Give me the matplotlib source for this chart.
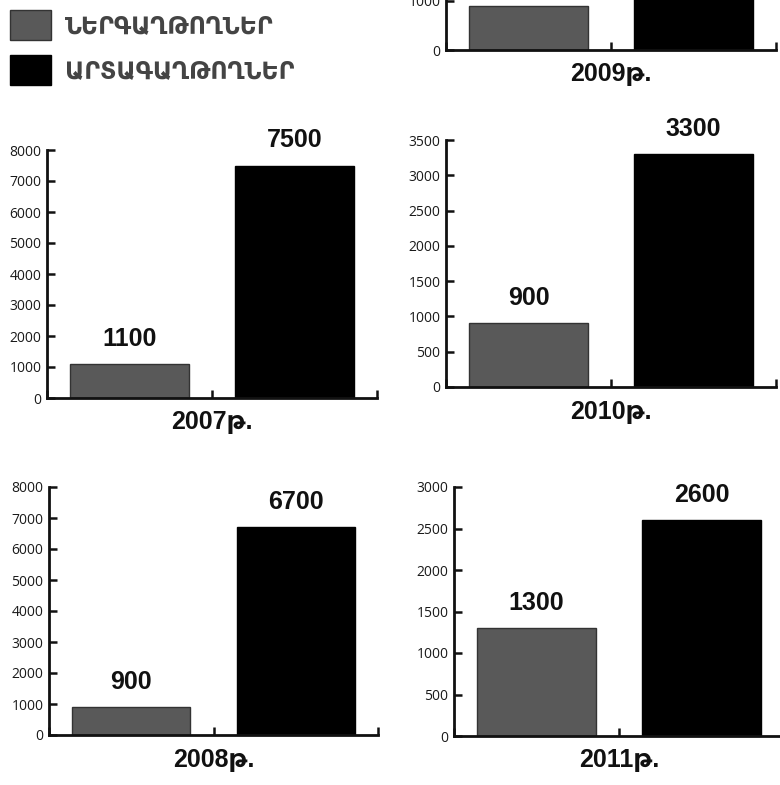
import numpy as np
import matplotlib
matplotlib.use('Agg')
import matplotlib.pyplot as plt
from matplotlib.patches import Patch

W, H = 780, 785

years = ['2007', '2008', '2009', '2010', '2011']
immigrants = [1100, 900, 900, 900, 1300]
emigrants = [7500, 6700, 4500, 3300, 2600]
ymax = [8000, 8000, 5000, 3500, 3000]
ystep = [1000, 1000, 1000, 500, 500]
legend_labels = ['ՆԵՐԳԱՂԹՈՂՆԵՐ', 'ԱՐՏԱԳԱՂԹՈՂՆԵՐ']
year_suffix = 'թ.'

GRAY = '#595959'
BLACK = '#000000'

# pixel boxes: (x left, x right, y of zero, y of ymax)
boxes = {
    '2007': (47, 377, 398, 150),
    '2008': (49, 378, 735, 487),
    '2009': (446, 776, 50, -195),
    '2010': (446, 776, 387, 140),
    '2011': (454, 784, 736, 487),
}

fig = plt.figure(figsize=(W / 100, H / 100), dpi=100)

bold_fam = ['Liberation Sans', 'DejaVu Sans']

for i, yr in enumerate(years):
    x0, x1, y0, y1 = boxes[yr]
    ax = fig.add_axes([x0 / W, (H - y0) / H, (x1 - x0) / W, (y0 - y1) / H])
    xs = np.array([0.5, 1.5])
    vals = [immigrants[i], emigrants[i]]
    bars = ax.bar(xs, vals, width=0.72, color=[GRAY, BLACK],
                  edgecolor=['#333333', BLACK], linewidth=1, zorder=2)
    # the 2009 panel is cropped at the top of the picture
    visible_top = ymax[i] * y0 / (y0 - y1)
    for b, v in zip(bars, vals):
        if v > visible_top * 0.8:
            if yr == '2009':
                continue
        ax.annotate(str(v), (b.get_x() + b.get_width() / 2, v),
                    xytext=(0, 9.5), textcoords='offset points',
                    ha='center', va='bottom', fontsize=18, fontweight='bold',
                    family=bold_fam, color='#111111', annotation_clip=False)
    ax.set_xlim(0, 2)
    ax.set_ylim(0, ymax[i])
    ax.set_xticks([0, 1, 2])
    ax.set_xticklabels([])
    ticks = np.arange(0, ymax[i] + 1, ystep[i])
    ax.set_yticks(ticks[ticks <= visible_top + 1])
    ax.tick_params(axis='both', direction='in', length=6, width=1.8,
                   color='#111111')
    ax.tick_params(axis='y', labelsize=10, labelcolor='#1a1a1a', pad=4)
    for lab in ax.get_yticklabels():
        lab.set_family('Open Sans')
    for s in ['top', 'right']:
        ax.spines[s].set_visible(False)
    for s in ['left', 'bottom']:
        ax.spines[s].set_linewidth(2)
        ax.spines[s].set_color('#111111')
    ax.annotate(yr + year_suffix, (0.5, 0), xycoords='axes fraction',
                xytext=(0, -9), textcoords='offset points',
                ha='center', va='top', fontsize=18, fontweight='bold',
                family=bold_fam, color='#111111')
    ax.set_facecolor('none')

handles = [Patch(facecolor=GRAY, edgecolor='#333333'),
           Patch(facecolor=BLACK, edgecolor=BLACK)]
fig.legend(handles, legend_labels, loc='upper left',
           bbox_to_anchor=(0, 1), borderaxespad=0, frameon=False,
           prop={'family': 'DejaVu Sans', 'weight': 'bold', 'size': 17},
           labelcolor='#444444', handlelength=1.74, handleheight=1.58,
           handletextpad=0.6, labelspacing=0.64, borderpad=0.42)

fig.savefig('out.png', dpi=100)
